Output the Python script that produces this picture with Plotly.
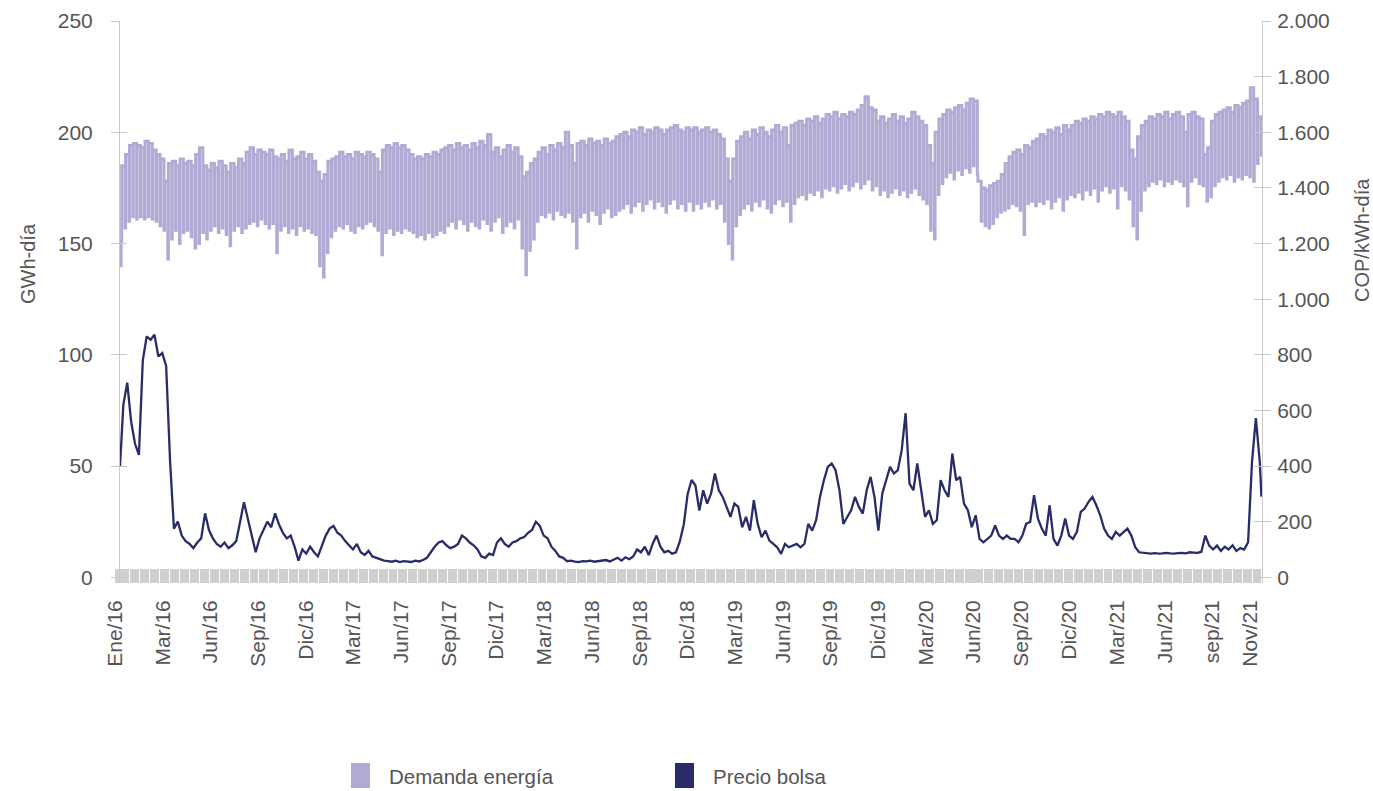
import pandas as pd
import plotly.graph_objects as go

# ---------------- DATA ----------------
# Daily demand is shown week by week: weekday level and Sunday level (GWh-día)
inicio_fechas = ["2016-01-01", "2016-01-02", "2016-01-03"]
inicio_demanda = [151, 140, 151]

dem_alta = [
    185, 190, 194, 195, 194, 193, 196, 195, 192, 190,
    188, 178, 186, 187, 185, 188, 186, 187, 185, 190,
    193, 185, 183, 186, 184, 187, 185, 182, 186, 184,
    188, 186, 191, 193, 190, 192, 191, 190, 192, 189,
    188, 190, 187, 192, 188, 189, 191, 188, 190, 187,
    182, 178, 181, 187, 188, 189, 191, 189, 190, 188,
    191, 190, 189, 191, 190, 188, 182, 192, 194, 193,
    195, 193, 194, 192, 190, 188, 189, 188, 190, 189,
    191, 190, 192, 193, 194, 192, 195, 193, 194, 192,
    195, 193, 196, 194, 199, 191, 193, 189, 192, 194,
    191, 193, 189, 180, 182, 186, 188, 191, 193, 190,
    194, 192, 195, 193, 200, 194, 186, 195, 196, 194,
    197, 195, 196, 194, 197, 195, 196, 198, 199, 200,
    198, 201, 200, 202, 199, 201, 200, 202, 201, 199,
    201, 202, 203, 201, 200, 202, 201, 202, 200, 201,
    202, 200, 201, 199, 197, 188, 178, 188, 196, 198,
    200, 197, 201, 199, 202, 200, 198, 201, 203, 200,
    202, 194, 203, 204, 205, 203, 206, 205, 207, 204,
    206, 208, 207, 209, 206, 208, 207, 209, 208, 210,
    212, 216, 211, 210, 205, 207, 204, 206, 208, 205,
    207, 204, 206, 209, 207, 205, 203, 194, 186, 200,
    206, 208, 210, 209, 211, 212, 210, 213, 215, 214,
    178, 175, 174, 176, 177, 178, 181, 186, 189, 191,
    192, 190, 194, 193, 196, 197, 199, 198, 201, 200,
    202, 199, 203, 201, 203, 205, 204, 206, 205, 207,
    206, 208, 207, 209, 208, 207, 209, 207, 205, 192,
    188, 198, 203, 205, 207, 206, 208, 207, 209, 206,
    208, 209, 207, 200, 208, 209, 207, 206, 190, 193,
    205, 208, 209, 210, 211, 209, 212, 211, 213, 214,
    220, 215, 207,
]

dem_baja = [
    157, 160, 162, 161, 162, 161, 162, 161, 160, 158,
    156, 143, 152, 156, 150, 155, 156, 153, 148, 150,
    155, 152, 156, 158, 155, 157, 154, 149, 156, 158,
    155, 157, 159, 160, 158, 161, 159, 157, 159, 146,
    156, 158, 155, 157, 154, 158, 156, 157, 155, 154,
    140, 135, 146, 153, 156, 158, 157, 159, 156, 155,
    158, 157, 159, 160, 158, 156, 145, 155, 157, 154,
    156, 155, 157, 156, 155, 153, 154, 152, 155, 153,
    154, 156, 155, 158, 160, 157, 161, 159, 156, 160,
    158, 157, 161, 159, 156, 160, 162, 155, 158, 160,
    157, 161, 148, 136, 147, 152, 160, 163, 162, 164,
    161, 165, 163, 162, 164, 160, 148, 162, 164, 160,
    165, 163, 159, 164, 166, 162, 163, 165, 166, 168,
    164, 167, 169, 165, 168, 170, 166, 169, 167, 164,
    168, 170, 166, 168, 165, 169, 165, 168, 166, 169,
    167, 170, 166, 168, 160, 150, 143, 158, 163, 166,
    168, 165, 169, 167, 170, 166, 164, 168, 170, 167,
    169, 160, 168, 171, 172, 170, 173, 172, 174, 171,
    175, 174, 176, 173, 175, 177, 174, 176, 178, 175,
    177, 179, 174, 176, 172, 174, 171, 173, 175, 172,
    174, 171, 173, 175, 172, 170, 168, 156, 152, 172,
    177, 180, 182, 179, 183, 181, 184, 182, 185, 181,
    160, 158, 157, 159, 162, 164, 165, 166, 168, 167,
    165, 154, 168, 169, 167, 169, 168, 170, 166, 169,
    171, 165, 170, 172, 171, 173, 170, 174, 172, 175,
    169, 174, 176, 173, 175, 166, 176, 174, 170, 158,
    152, 165, 174, 176, 178, 177, 179, 176, 178, 177,
    179, 178, 176, 167, 178, 180, 177, 176, 169, 171,
    176, 178, 180, 179, 181, 178, 180, 179, 181, 180,
    178, 186, 189,
]

# Spot price, one reading per week (COP/kWh-día)
precio_inicio = 400
precio_semana = [
    620, 700, 560, 480, 440, 780, 866, 854, 872, 794,
    806, 760, 420, 175, 200, 150, 130, 120, 105, 125,
    140, 230, 170, 140, 120, 110, 125, 105, 115, 130,
    200, 270, 210, 150, 90, 140, 170, 200, 180, 230,
    190, 160, 140, 150, 110, 60, 100, 85, 110, 90,
    75, 110, 150, 175, 185, 160, 150, 130, 115, 100,
    120, 90, 80, 95, 75, 70, 65, 60, 58, 56,
    60, 55, 58, 56, 55, 60, 57, 62, 70, 90,
    110, 125, 130, 115, 105, 110, 120, 150, 140, 125,
    115, 100, 75, 70, 85, 80, 125, 140, 120, 110,
    125, 130, 140, 145, 160, 170, 200, 185, 150, 140,
    110, 95, 75, 70, 58, 60, 56, 55, 58, 57,
    60, 56, 58, 60, 62, 57, 65, 70, 60, 72,
    65, 75, 100, 90, 110, 80, 120, 150, 110, 90,
    95, 85, 90, 130, 190, 300, 350, 330, 240, 313,
    265, 301, 373, 313, 289, 253, 217, 265, 253, 180,
    217, 168, 277, 192, 144, 168, 132, 120, 108, 84,
    120, 108, 114, 120, 108, 120, 192, 168, 205, 289,
    349, 397, 409, 385, 313, 192, 217, 241, 289, 253,
    229, 313, 361, 289, 168, 301, 349, 397, 373, 385,
    457, 590, 337, 313, 409, 313, 217, 241, 192, 205,
    349, 313, 289, 445, 349, 361, 265, 241, 180, 223,
    138, 126, 138, 150, 187, 150, 138, 150, 138, 138,
    126, 150, 193, 199, 295, 211, 175, 150, 259, 138,
    114, 150, 211, 150, 138, 163, 235, 247, 271, 289,
    259, 223, 175, 150, 138, 163, 150, 163, 175, 150,
    108, 90, 88, 86, 85, 87, 85, 86, 88, 86,
    85, 87, 88, 86, 90, 89, 88, 92, 150, 114,
    100, 114, 95, 110, 100, 115, 95, 105, 100, 126,
    415, 572, 415,
]
precio_final = 290

# Tick labels of the category axis and where they sit
tick_textos = ["Ene/16", "Mar/16", "Jun/16", "Sep/16", "Dic/16", "Mar/17", "Jun/17",
               "Sep/17", "Dic/17", "Mar/18", "Jun/18", "Sep/18", "Dic/18", "Mar/19",
               "Jun/19", "Sep/19", "Dic/19", "Mar/20", "Jun/20", "Sep/20", "Dic/20",
               "Mar/21", "Jun/21", "sep/21", "Nov/21"]
tick_fechas = ["2015-12-23", "2016-03-18", "2016-06-12", "2016-09-05", "2016-11-30",
               "2017-02-24", "2017-05-21", "2017-08-15", "2017-11-08", "2018-02-02",
               "2018-04-29", "2018-07-24", "2018-10-18", "2019-01-11", "2019-04-07",
               "2019-07-02", "2019-09-26", "2019-12-21", "2020-03-15", "2020-06-09",
               "2020-09-03", "2020-11-28", "2021-02-22", "2021-05-18", "2021-07-25"]

y_izq_ticks = [0, 50, 100, 150, 200, 250]
y_der_ticks = [0, 200, 400, 600, 800, 1000, 1200, 1400, 1600, 1800, 2000]

# ---------------- BUILD SERIES ----------------
lunes = pd.date_range("2016-01-04", periods=len(dem_alta), freq="7D")
domingos = lunes + pd.Timedelta(days=6)
jueves = lunes + pd.Timedelta(days=3)

x_dem = [pd.Timestamp(f) for f in inicio_fechas]
y_dem = list(inicio_demanda)
for l, d, a, b in zip(lunes, domingos, dem_alta, dem_baja):
    x_dem += [l, d]
    y_dem += [a, b]

x_pre = [pd.Timestamp(inicio_fechas[0])] + list(jueves) + [domingos[-1]]
y_pre = [precio_inicio] + precio_semana + [precio_final]

# ---------------- FIGURE ----------------
W, H = 1373, 791
C_DEM = "#b2a9d4"
C_PRE = "#282d69"
AXC = "#c9c9c9"
BAND = "#cfcfcf"
TXT = "#555555"
FONT = "Liberation Sans, Arial, sans-serif"
TICK_FONT = dict(size=21, color=TXT, family=FONT)

fig = go.Figure()
fig.add_trace(go.Scatter(x=x_dem, y=y_dem, mode="lines", name="Demanda energía",
                         line=dict(color=C_DEM, width=3, shape="hv"),
                         yaxis="y", showlegend=False))
fig.add_trace(go.Scatter(x=x_pre, y=y_pre, mode="lines", name="Precio bolsa",
                         line=dict(color=C_PRE, width=2.3),
                         yaxis="y2", showlegend=False))
# empty traces so the inner tick overlays exist
fig.add_trace(go.Scatter(x=[], y=[], yaxis="y3", showlegend=False))
fig.add_trace(go.Scatter(x=[], y=[], yaxis="y4", showlegend=False))

y_top, y_bot = 21, 583
y_zero = 577.3
px_per_unit = (y_zero - y_top) / 250
ymin = -(y_bot - y_zero) / px_per_unit
rng_izq = [ymin, 250]
rng_der = [ymin * 8, 2000]
ydom = [1 - y_bot / H, 1 - y_top / H]
x_left_axis = 119 / W

common_y = dict(showgrid=False, zeroline=False, tickcolor=AXC, tickwidth=1,
                domain=ydom, automargin=False)

fig.update_layout(
    template="none",
    width=W, height=H, autosize=False,
    margin=dict(l=0, r=0, t=0, b=0, pad=0),
    paper_bgcolor="white", plot_bgcolor="white",
    showlegend=False,
    separators=",.",
    font=dict(family=FONT, size=20, color=TXT),
    xaxis=dict(
        domain=[114 / W, 1262 / W], type="date", anchor="y", automargin=False,
        range=["2015-12-21 04:48", "2021-08-16"],
        tickmode="array", tickvals=tick_fechas, ticktext=tick_textos,
        tickangle=-90, ticks="inside", ticklen=14, tickcolor=BAND, tickwidth=1.3,
        ticklabelstandoff=12,
        minor=dict(ticks="inside", ticklen=14, tickcolor=BAND, tickwidth=1.3,
                   dtick=2 * 86400000, tick0="2016-01-01", showgrid=False),
        showgrid=False, zeroline=False, showline=False,
        tickfont=TICK_FONT,
    ),
    yaxis=dict(
        range=rng_izq, tickmode="array", tickvals=y_izq_ticks,
        anchor="free", position=x_left_axis, side="left",
        ticks="outside", ticklen=8, showline=True, linecolor=AXC, linewidth=1,
        ticklabelstandoff=14, tickfont=TICK_FONT,
        **common_y,
    ),
    yaxis2=dict(
        range=rng_der, tickmode="array", tickvals=y_der_ticks,
        overlaying="y", side="right", anchor="x",
        separatethousands=True,
        ticks="outside", ticklen=8, showline=True, linecolor=AXC, linewidth=1,
        ticklabelstandoff=2, tickfont=TICK_FONT,
        **common_y,
    ),
    yaxis3=dict(
        range=rng_izq, tickmode="array", tickvals=y_izq_ticks,
        overlaying="y", anchor="free", position=x_left_axis, side="left",
        ticks="inside", ticklen=7, showticklabels=False, showline=False,
        **common_y,
    ),
    yaxis4=dict(
        range=rng_der, tickmode="array", tickvals=y_der_ticks,
        overlaying="y", anchor="x", side="right",
        ticks="inside", ticklen=8, showticklabels=False, showline=False,
        **common_y,
    ),
)

# axis titles
fig.add_annotation(text="GWh-día", textangle=-90, xref="paper", yref="paper",
                   x=28 / W, y=1 - 263 / H, xanchor="center", yanchor="middle",
                   showarrow=False, font=dict(size=20, color=TXT, family=FONT))
fig.add_annotation(text="COP/kWh-día", textangle=-90, xref="paper", yref="paper",
                   x=1362 / W, y=1 - 240 / H, xanchor="center", yanchor="middle",
                   showarrow=False, font=dict(size=20, color=TXT, family=FONT))

# legend (swatches + labels)
leyenda = [("Demanda energía", C_DEM, 351, 387), ("Precio bolsa", C_PRE, 675, 711)]
for texto, color, xs, xt in leyenda:
    fig.add_shape(type="rect", xref="paper", yref="paper",
                  x0=xs / W, x1=(xs + 19) / W, y0=1 - 788 / H, y1=1 - 763 / H,
                  fillcolor=color, line=dict(width=0))
    fig.add_annotation(text=texto, xref="paper", yref="paper",
                       x=xt / W, y=1 - 776 / H, xanchor="left", yanchor="middle",
                       showarrow=False, font=dict(size=20.5, color=TXT, family=FONT))

fig.write_html("out.html")
